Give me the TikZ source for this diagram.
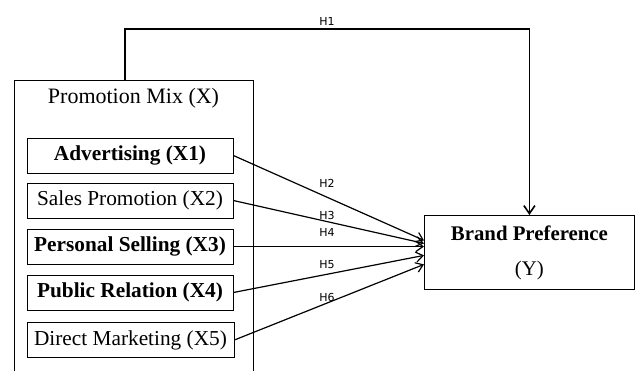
\documentclass[tikz,border=0pt]{standalone}
\usepackage{fontspec}
\setmainfont{Liberation Serif}
\newfontfamily\hypfont{DejaVu Sans}
\usetikzlibrary{arrows.meta}

\begin{document}
\begin{tikzpicture}[x=1pt,y=-1pt,
  tool/.style={draw,line width=0.8pt,minimum width=206pt,minimum height=35pt,
    inner sep=0pt,font=\fontsize{21.3}{25}\selectfont},
  hyp/.style={font=\hypfont\fontsize{11}{13}\selectfont,inner sep=1pt},
  link/.style={line width=1.2pt,-{Straight Barb[length=7pt,width=10pt]}}]
\useasboundingbox (0,0) rectangle (635,370);

% promotion mix
\node[draw,line width=0.9pt,minimum width=239pt,minimum height=300pt,
  inner sep=0pt,anchor=north west] (mix) at (14,80) {};
\node[font=\fontsize{22}{26}\selectfont] (mixtitle) at (133.5,98) {Promotion Mix (X)};
\node[tool] (adv) at (130,155.5) {\textbf{Advertising (X1)}};
\node[tool] (sales) at (130,200.5) {Sales Promotion (X2)};
\node[tool] (personal) at (130,246.5) {\textbf{Personal Selling (X3)}};
\node[tool] (public) at (130,292.5) {\textbf{Public Relation (X4)}};
\node[tool,minimum width=207pt] (direct) at (130.5,340) {Direct Marketing (X5)};

% brand preference
\node[draw,line width=0.8pt,minimum width=210pt,minimum height=74pt,
  anchor=north west,align=center,font=\fontsize{20.8}{24}\selectfont]
  (brand) at (424,215) {\textbf{Brand Preference}\\[11pt](Y)};

% H1
\coordinate (h1top) at (125,29);
\draw[line width=1.6pt,-{Straight Barb[length=8pt,width=11pt]}]
  (mix.north -| h1top) -- (h1top) -| (brand.north);
\node[hyp] (h1) at (327,21) {H1};

% H2 - H6
\draw[link] (adv.east) -- ([yshift=12pt]brand.west);
\draw[link] (sales.east) -- ([yshift=9pt]brand.west);
\draw[link] (personal.east) -- (personal.east -| brand.west);
\draw[link] (public.east) -- ([yshift=-3pt]brand.west);
\draw[link] (direct.east) -- ([yshift=-12pt]brand.west);
\node[hyp] (h2) at (327,183) {H2};
\node[hyp] (h3) at (327,215) {H3};
\node[hyp] (h4) at (327,232) {H4};
\node[hyp] (h5) at (327,265) {H5};
\node[hyp] (h6) at (327,297) {H6};
\end{tikzpicture}
\end{document}
